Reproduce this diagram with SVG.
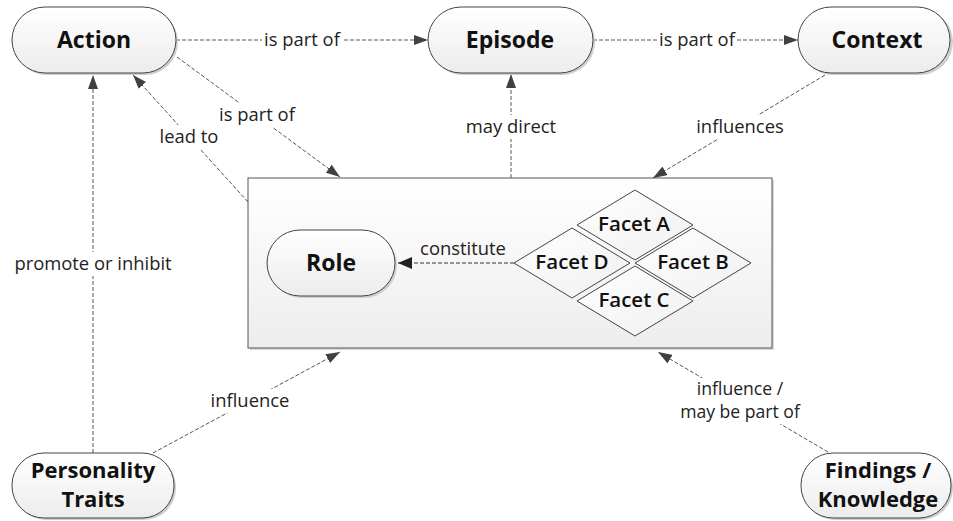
<svg xmlns="http://www.w3.org/2000/svg" width="953" height="521" viewBox="0 0 953 521">
<defs>
<linearGradient id="gNode" x1="0" y1="0" x2="0" y2="1"><stop offset="0" stop-color="#ffffff"/><stop offset="1" stop-color="#ececec"/></linearGradient>
<linearGradient id="gBox" x1="0" y1="0" x2="0" y2="1"><stop offset="0" stop-color="#ffffff"/><stop offset="1" stop-color="#ededed"/></linearGradient>
<linearGradient id="gDia" x1="0" y1="0" x2="1" y2="1"><stop offset="0" stop-color="#ffffff"/><stop offset="1" stop-color="#f0f0f0"/></linearGradient>
<marker id="arr" viewBox="0 0 14 10" refX="14" refY="5" markerWidth="14" markerHeight="10" markerUnits="userSpaceOnUse" orient="auto"><path d="M0,0 L14,5 L0,10 z" fill="#404040"/></marker>
<marker id="arrL" viewBox="0 0 14 12" refX="14" refY="6" markerWidth="14" markerHeight="12" markerUnits="userSpaceOnUse" orient="auto"><path d="M0,0 L14,6 L0,12 z" fill="#202020"/></marker>
</defs>
<style>
.node{fill:url(#gNode);stroke:#444;stroke-width:1}
.shadow{fill:#cfcfcf}
.nt{font-family:"Open Sans","Liberation Sans",sans-serif;font-weight:bold;font-size:23px;fill:#111;text-anchor:middle}
.nt2{font-family:"Open Sans","Liberation Sans",sans-serif;font-weight:bold;font-size:22px;fill:#111;text-anchor:middle}
.ft{font-family:"Open Sans","Liberation Sans",sans-serif;font-weight:600;font-size:20.5px;fill:#111;text-anchor:middle}
.lt{font-family:"Open Sans","Liberation Sans",sans-serif;font-size:18.4px;fill:#222;text-anchor:middle}
.lt2{font-family:"Open Sans","Liberation Sans",sans-serif;font-size:17.6px;fill:#222;text-anchor:middle}
.bg{fill:#ffffff}
.c{fill:none;stroke:#555;stroke-width:1;stroke-dasharray:4,2;marker-end:url(#arr)}
.dia{fill:url(#gDia);stroke:#444;stroke-width:1}
</style>
<rect width="953" height="521" fill="#ffffff"/>

<g id="role-box">
<rect x="250" y="180" width="524" height="170" fill="#d8d8d8"/>
<rect x="248" y="178" width="524" height="170" fill="url(#gBox)" stroke="#555" stroke-width="1"/>
</g>

<g id="connectors">
<line class="c" x1="176" y1="40" x2="428" y2="40"/>
<line class="c" x1="593" y1="40" x2="798" y2="40"/>
<line class="c" x1="177" y1="57" x2="340" y2="177"/>
<line class="c" x1="248" y1="202" x2="133" y2="75"/>
<line class="c" x1="511" y1="178" x2="511" y2="74"/>
<line class="c" x1="825" y1="75" x2="653" y2="178"/>
<line class="c" x1="93" y1="453" x2="93" y2="75"/>
<line class="c" x1="153" y1="453" x2="340" y2="352"/>
<line class="c" x1="828" y1="452" x2="658" y2="352"/>
<line x1="514" y1="263" x2="398" y2="263" stroke="#333" stroke-width="1" stroke-dasharray="4,2" marker-end="url(#arrL)"/>
<g id="connector-labels">
<rect class="bg" x="262" y="29" width="80" height="22"/><text class="lt" x="302" y="46">is part of</text>
<rect class="bg" x="657" y="29" width="80" height="22"/><text class="lt" x="697" y="46">is part of</text>
<rect class="bg" x="216" y="103" width="82" height="24"/><text class="lt" x="257" y="121">is part of</text>
<rect class="bg" x="156" y="125" width="66" height="24"/><text class="lt" x="189" y="143">lead to</text>
<rect class="bg" x="460" y="115" width="102" height="24"/><text class="lt" x="511" y="133">may direct</text>
<rect class="bg" x="694" y="115" width="92" height="24"/><text class="lt" x="740" y="133">influences</text>
<rect class="bg" x="12" y="252" width="162" height="24"/><text class="lt" x="93" y="270">promote or inhibit</text>
<rect class="bg" x="207" y="389" width="86" height="24"/><text class="lt" x="250" y="407">influence</text>
<rect class="bg" x="670" y="378" width="140" height="46"/><text class="lt2" x="740" y="395">influence /</text><text class="lt2" x="740" y="418">may be part of</text>
<text class="lt" x="463" y="255">constitute</text>
</g>
</g>

<g id="action">
<rect class="shadow" x="14" y="9" width="164" height="66" rx="33"/>
<rect class="node" x="12" y="7" width="164" height="66" rx="33"/>
<text class="nt" x="94" y="48">Action</text>
</g>
<g id="episode">
<rect class="shadow" x="430" y="9" width="165" height="66" rx="33"/>
<rect class="node" x="428" y="7" width="165" height="66" rx="33"/>
<text class="nt" x="510" y="48">Episode</text>
</g>
<g id="context">
<rect class="shadow" x="800" y="9" width="153" height="66" rx="33"/>
<rect class="node" x="798" y="7" width="152" height="66" rx="33"/>
<text class="nt" x="877" y="48">Context</text>
</g>
<g id="role">
<rect class="shadow" x="269" y="232" width="128" height="66" rx="33"/>
<rect class="node" x="267" y="230" width="128" height="66" rx="33"/>
<text class="nt" x="331" y="271">Role</text>
</g>
<g id="facet-a">
<polygon class="dia" points="635,190 693,225 635,260 577,225"/>
<text class="ft" x="634" y="231">Facet A</text>
</g>
<g id="facet-d">
<polygon class="dia" points="572,228 630,263 572,298 514,263"/>
<text class="ft" x="572" y="269">Facet D</text>
</g>
<g id="facet-b">
<polygon class="dia" points="693,228 751,263 693,298 635,263"/>
<text class="ft" x="693" y="269">Facet B</text>
</g>
<g id="facet-c">
<polygon class="dia" points="635,266 693,301 635,336 577,301"/>
<text class="ft" x="634" y="307">Facet C</text>
</g>
<g id="personality-traits">
<rect class="shadow" x="14" y="455" width="162" height="65" rx="32"/>
<rect class="node" x="12" y="453" width="162" height="65" rx="32"/>
<text class="nt2" x="93" y="478">Personality</text>
<text class="nt2" x="93" y="507">Traits</text>
</g>
<g id="findings-knowledge">
<rect class="shadow" x="803" y="455" width="150" height="65" rx="32"/>
<rect class="node" x="801" y="453" width="150" height="65" rx="32"/>
<text class="nt2" x="878" y="478">Findings /</text>
<text class="nt2" x="878" y="507">Knowledge</text>
</g>
</svg>
